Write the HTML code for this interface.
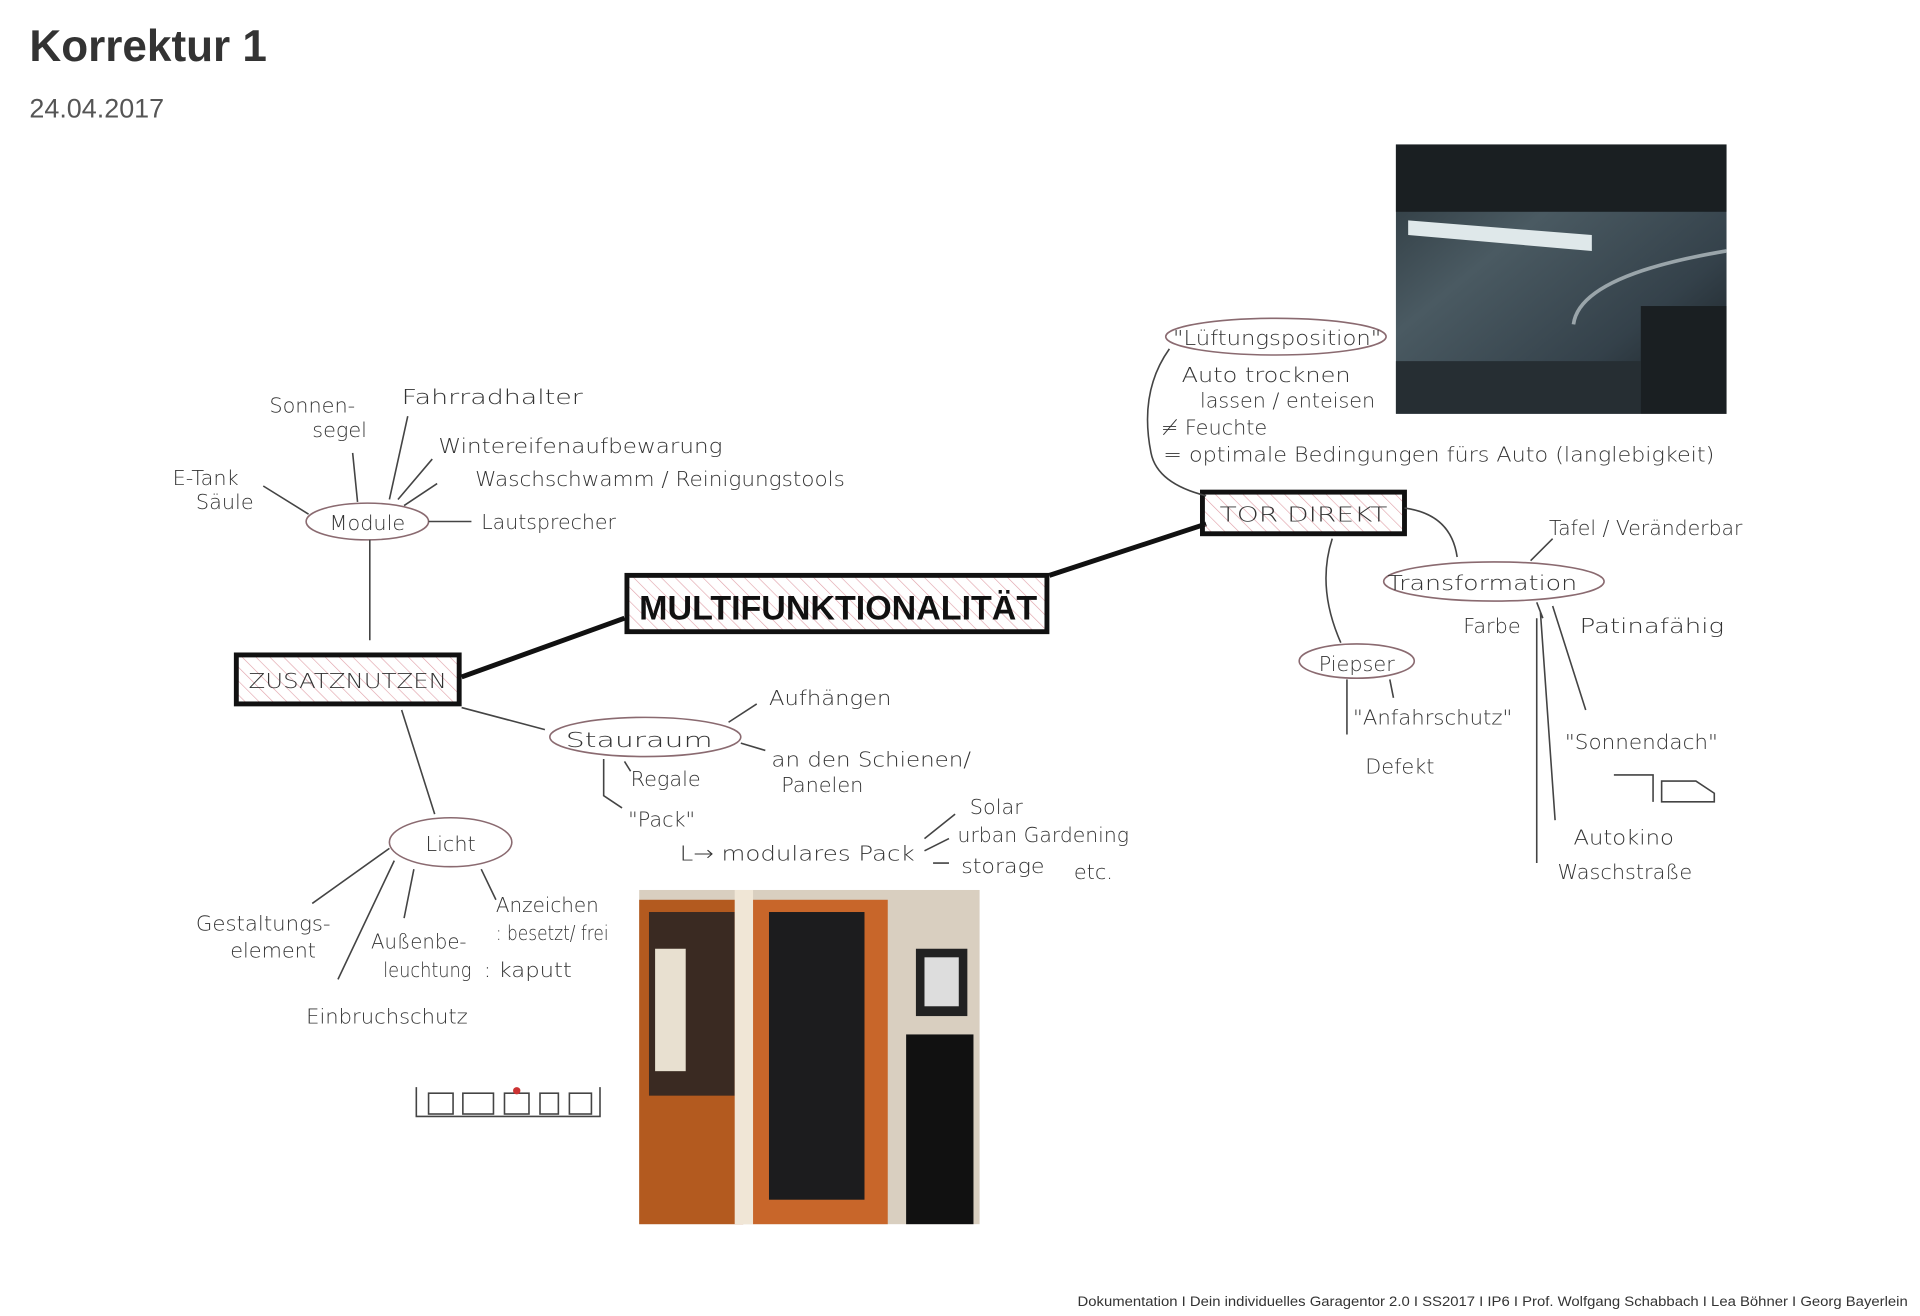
<!DOCTYPE html>
<html><head><meta charset="utf-8"><style>
html,body{margin:0;padding:0;background:#fff;width:1920px;height:1316px;overflow:hidden}
svg{display:block}
text{font-family:"Liberation Sans",sans-serif}
.h{font-family:"DejaVu Sans","Liberation Sans",sans-serif;fill:#333;font-size:17px;font-weight:300}
.l{stroke:#444;stroke-width:1.3;fill:none}
.o{stroke:#8a6a70;stroke-width:1.3;fill:none}
</style></head><body>
<svg width="1920" height="1316" viewBox="0 0 1568 1075" preserveAspectRatio="none" xmlns="http://www.w3.org/2000/svg">
<defs>
<pattern id="hat" width="8" height="8" patternUnits="userSpaceOnUse" patternTransform="rotate(-45)">
<line x1="0" y1="0" x2="0" y2="8" stroke="#e0a0a8" stroke-width="1"/></pattern>
<linearGradient id="gar" x1="0" y1="0" x2="1" y2="1">
<stop offset="0" stop-color="#2a353b"/><stop offset=".35" stop-color="#4a5a62"/><stop offset=".7" stop-color="#34414a"/><stop offset="1" stop-color="#151a1d"/></linearGradient>
</defs>
<text x="24" y="50" font-size="36" font-weight="bold" fill="#333">Korrektur 1</text>
<text x="24" y="96" font-size="22" fill="#555">24.04.2017</text>

<!-- garage photo -->
<rect x="1140" y="118" width="270" height="220" fill="url(#gar)"/>
<rect x="1140" y="118" width="270" height="55" fill="#1a1f22"/>
<polygon points="1150,180 1300,192 1300,205 1150,192" fill="#dfe8ea"/>
<path d="M1285,265 Q1290,225 1410,205" stroke="#9aa5aa" stroke-width="3" fill="none"/>
<rect x="1340" y="250" width="70" height="88" fill="#1a1f22"/>
<rect x="1140" y="295" width="200" height="43" fill="#262e33"/>

<!-- closet photo -->
<rect x="522" y="727" width="278" height="273" fill="#d9cfc0"/>
<rect x="522" y="735" width="85" height="265" fill="#b35a1f"/>
<rect x="530" y="745" width="70" height="150" fill="#3a2a22"/>
<rect x="535" y="775" width="25" height="100" fill="#e8e0d0"/>
<rect x="600" y="727" width="15" height="273" fill="#f0e6d6"/>
<rect x="615" y="735" width="110" height="265" fill="#c8662a"/>
<rect x="628" y="745" width="78" height="235" fill="#1c1c1e"/>
<rect x="748" y="775" width="42" height="55" fill="#222"/>
<rect x="755" y="782" width="28" height="40" fill="#ddd"/>
<rect x="740" y="845" width="55" height="155" fill="#111"/>

<path d="M377,553 L510,505 M857,470 L985,428" stroke="#111" stroke-width="4" fill="none"/>

<rect x="512" y="470" width="343" height="46" fill="url(#hat)" stroke="#111" stroke-width="4"/>
<text x="522" y="506" font-size="28" font-weight="bold" fill="#111" textLength="325" lengthAdjust="spacingAndGlyphs">MULTIFUNKTIONALITÄT</text>
<rect x="193" y="535" width="182" height="40" fill="url(#hat)" stroke="#111" stroke-width="4"/>
<text x="203" y="562" class="h" textLength="162" lengthAdjust="spacingAndGlyphs">ZUSATZNUTZEN</text>
<rect x="982" y="402" width="165" height="34" fill="url(#hat)" stroke="#111" stroke-width="4"/>
<text x="996" y="426" class="h" textLength="137" lengthAdjust="spacingAndGlyphs">TOR  DIREKT</text>

<!-- left cluster -->
<ellipse cx="300" cy="426" rx="50" ry="15" class="o"/>
<text x="300" y="433" text-anchor="middle" class="h" fill="#a06070">Module</text>
<path class="l" d="M302,441 L302,523 M215,397 L252,420 M288,370 L292,410 M333,340 L318,408 M353,375 L325,408 M357,395 L330,413 M350,426 L385,426"/>
<text x="220" y="337" class="h">Sonnen-</text><text x="255" y="357" class="h">segel</text>
<text x="328" y="330" class="h" textLength="148" lengthAdjust="spacingAndGlyphs">Fahrradhalter</text>
<text x="358" y="370" class="h" textLength="232" lengthAdjust="spacingAndGlyphs">Wintereifenaufbewarung</text>
<text x="388" y="397" class="h" textLength="302" lengthAdjust="spacingAndGlyphs">Waschschwamm / Reinigungstools</text>
<text x="393" y="432" class="h" textLength="110" lengthAdjust="spacingAndGlyphs">Lautsprecher</text>
<text x="141" y="396" class="h">E-Tank</text><text x="160" y="416" class="h">Säule</text>

<path class="l" d="M328,580 L355,665 M377,578 L445,596"/>
<ellipse cx="527" cy="602" rx="78" ry="16" class="o"/>
<text x="462" y="610" class="h" font-size="20" textLength="120" lengthAdjust="spacingAndGlyphs">Stauraum</text>
<path class="l" d="M595,590 L618,575 M605,607 L625,613 M493,620 L493,650 L508,660 M510,622 L515,630"/>
<text x="628" y="576" class="h" textLength="100" lengthAdjust="spacingAndGlyphs">Aufhängen</text>
<text x="630" y="626" class="h" textLength="163" lengthAdjust="spacingAndGlyphs">an den Schienen/</text><text x="638" y="647" class="h">Panelen</text>
<text x="515" y="642" class="h">Regale</text>
<text x="513" y="675" class="h">"Pack"</text>
<text x="555" y="703" class="h" textLength="192" lengthAdjust="spacingAndGlyphs">L→ modulares Pack</text>
<path class="l" d="M755,685 L780,665 M755,695 L775,685 M762,705 L775,705"/>
<text x="792" y="665" class="h">Solar</text>
<text x="782" y="688" class="h" textLength="140" lengthAdjust="spacingAndGlyphs">urban Gardening</text>
<text x="785" y="713" class="h" textLength="68" lengthAdjust="spacingAndGlyphs">storage</text><text x="877" y="718" class="h" font-size="13">etc.</text>

<ellipse cx="368" cy="688" rx="50" ry="20" class="o"/>
<text x="368" y="695" text-anchor="middle" class="h" font-size="20">Licht</text>
<path class="l" d="M318,693 L255,738 M322,703 L276,800 M338,710 L330,750 M393,710 L405,735"/>
<text x="160" y="760" class="h" textLength="110" lengthAdjust="spacingAndGlyphs">Gestaltungs-</text><text x="188" y="782" class="h">element</text>
<text x="303" y="775" class="h" textLength="78" lengthAdjust="spacingAndGlyphs">Außenbe-</text><text x="313" y="798" class="h" textLength="72" lengthAdjust="spacingAndGlyphs">leuchtung</text>
<text x="405" y="745" class="h" textLength="84" lengthAdjust="spacingAndGlyphs">Anzeichen</text>
<text x="405" y="768" class="h" font-size="13" textLength="92" lengthAdjust="spacingAndGlyphs">: besetzt/ frei</text>
<text x="395" y="798" class="h" textLength="72" lengthAdjust="spacingAndGlyphs">: kaputt</text>
<text x="250" y="836" class="h" textLength="132" lengthAdjust="spacingAndGlyphs">Einbruchschutz</text>
<g class="l"><path d="M340,888 L340,912 L490,912 L490,888"/>
<rect x="350" y="893" width="20" height="17"/><rect x="378" y="893" width="25" height="17"/><rect x="412" y="893" width="20" height="17"/><rect x="441" y="893" width="15" height="17"/><rect x="465" y="893" width="18" height="17"/></g>
<circle cx="422" cy="891" r="3" fill="#c33"/>

<!-- right cluster -->
<ellipse cx="1042" cy="275" rx="90" ry="15" class="o"/>
<text x="958" y="282" class="h" textLength="170" lengthAdjust="spacingAndGlyphs">"Lüftungsposition"</text>
<path class="l" d="M955,285 Q930,320 940,370 Q945,395 985,405 M1088,440 Q1075,480 1095,525 M1147,415 Q1185,420 1190,455"/>
<text x="965" y="312" class="h" textLength="138" lengthAdjust="spacingAndGlyphs">Auto  trocknen</text>
<text x="980" y="333" class="h" textLength="143" lengthAdjust="spacingAndGlyphs">lassen / enteisen</text>
<text x="948" y="355" class="h">≠ Feuchte</text>
<text x="950" y="377" class="h" textLength="450" lengthAdjust="spacingAndGlyphs">= optimale Bedingungen fürs Auto  (langlebigkeit)</text>

<ellipse cx="1220" cy="475" rx="90" ry="16" class="o"/>
<text x="1133" y="482" class="h" textLength="155" lengthAdjust="spacingAndGlyphs">Transformation</text>
<path class="l" d="M1250,458 L1268,440 M1255,492 L1260,505 M1268,495 L1295,580 M1258,500 L1270,670 M1255,505 L1255,705"/>
<text x="1265" y="437" class="h" textLength="158" lengthAdjust="spacingAndGlyphs">Tafel / Veränderbar</text>
<text x="1195" y="517" class="h">Farbe</text>
<text x="1290" y="517" class="h" textLength="118" lengthAdjust="spacingAndGlyphs">Patinafähig</text>
<text x="1278" y="612" class="h" textLength="125" lengthAdjust="spacingAndGlyphs">"Sonnendach"</text>
<text x="1285" y="690" class="h" textLength="82" lengthAdjust="spacingAndGlyphs">Autokino</text>
<text x="1272" y="718" class="h" textLength="110" lengthAdjust="spacingAndGlyphs">Waschstraße</text>
<path class="l" d="M1318,633 L1350,633 L1350,655 M1357,638 L1385,638 L1400,648 L1400,655 L1357,655 Z"/>

<ellipse cx="1108" cy="540" rx="47" ry="14" class="o"/>
<text x="1108" y="548" text-anchor="middle" class="h">Piepser</text>
<path class="l" d="M1100,555 L1100,600 M1135,555 L1138,570"/>
<text x="1105" y="592" class="h" textLength="130" lengthAdjust="spacingAndGlyphs">"Anfahrschutz"</text>
<text x="1115" y="632" class="h">Defekt</text>

<text x="880" y="1067" font-size="11.5" fill="#333" textLength="678" lengthAdjust="spacingAndGlyphs">Dokumentation I Dein individuelles Garagentor 2.0 I SS2017 I IP6 I Prof. Wolfgang Schabbach I Lea Böhner I Georg Bayerlein</text>
</svg>
</body></html>
